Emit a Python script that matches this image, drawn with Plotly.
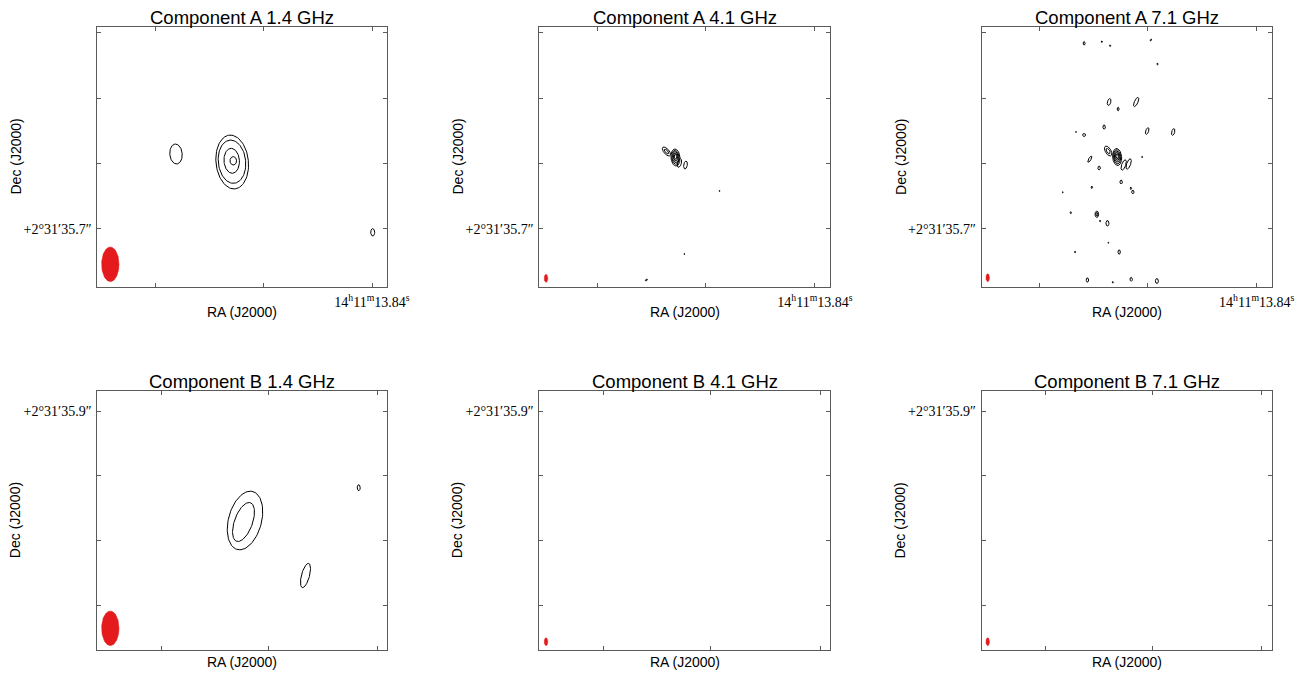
import numpy as np
import plotly.graph_objects as go

# ---------------- data (map offsets in map pixels; y up, x right) ----------------
# Component A 1.4 GHz contour rings: centre x, centre y, semi-minor, semi-major, tilt(deg)
a14_cx = [134.9, 134.7, 134.4, 136.0, 78.7, 275.4]
a14_cy = [124.7, 125.0, 125.9, 125.9, 132.7, 54.4]
a14_sa = [16.2, 13.7, 7.7, 3.3, 6.2, 2.0]
a14_sb = [27.0, 21.7, 12.5, 4.2, 10.0, 3.7]
a14_pa = [-6, -6, -4, 0, -5, 0]

# Component A 4.1 GHz
a41_cx = [135.7, 135.7, 135.7, 135.7, 135.7, 126.7, 126.7, 139.7, 145.7, 179.7, 144.7, 106.7]
a41_cy = [129.2, 129.4, 129.6, 129.8, 130.0, 135.2, 135.2, 123.7, 121.7, 95.7, 32.7, 6.7]
a41_sa = [4.5, 3.6, 2.8, 2.0, 1.2, 2.6, 1.3, 1.9, 1.8, 0.5, 0.5, 0.7]
a41_sb = [8.5, 7.0, 5.5, 4.0, 2.5, 5.5, 3.0, 4.5, 4.0, 0.6, 0.6, 1.2]
a41_pa = [-5, -5, -5, -5, -5, -40, -40, 15, 10, 0, 0, 60]

# Component A 7.1 GHz
a71_cx = [135.3, 135.3, 135.3, 135.3, 135.3, 126.3, 126.3, 141.8, 146.8,
          102.3, 120.0, 128.3, 169.0, 175.6, 127.3, 154.3, 136.3, 122.3, 94.3,
          102.3, 165.3, 191.3, 108.0, 160.3, 117.3, 139.3, 110.0, 149.0, 151.0,
          81.0, 89.0, 115.0, 115.0, 118.3, 125.6, 126.6, 93.3, 137.3, 105.6,
          131.0, 149.3, 175.0]
a71_cy = [129.7, 129.9, 130.1, 130.3, 130.5, 135.7, 135.7, 121.7, 122.7,
          243.4, 245.0, 241.0, 246.7, 222.7, 184.7, 184.7, 177.7, 159.7, 154.7,
          151.7, 155.7, 154.7, 127.5, 129.7, 118.7, 104.7, 99.4, 98.4, 94.7,
          94.4, 74.0, 72.4, 72.4, 65.7, 63.4, 44.0, 34.7, 34.7, 6.7,
          4.4, 7.4, 5.7]
a71_sa = [4.5, 3.6, 2.8, 2.0, 1.2, 2.8, 1.5, 2.0, 2.0,
          1.0, 0.6, 0.6, 0.6, 0.6, 1.7, 1.8, 1.0, 1.2, 0.5,
          1.5, 1.5, 1.5, 1.2, 0.5, 1.2, 1.2, 0.8, 0.7, 1.2,
          0.5, 0.7, 1.8, 1.0, 0.6, 1.5, 0.5, 0.6, 1.2, 1.2,
          0.6, 1.2, 1.5]
a71_sb = [8.5, 7.0, 5.5, 4.0, 2.5, 5.5, 3.0, 5.5, 5.5,
          1.8, 0.8, 0.8, 1.0, 0.9, 3.5, 5.0, 1.8, 2.2, 0.6,
          1.5, 3.5, 3.5, 3.5, 0.7, 2.0, 2.0, 1.2, 1.2, 1.8,
          0.6, 1.0, 3.2, 1.8, 0.8, 2.8, 0.6, 0.8, 2.2, 2.2,
          0.8, 2.0, 2.5]
a71_pa = [-5, -5, -5, -5, -5, -30, -30, 20, 20,
          0, 0, 0, 40, 0, 15, 25, 0, 0, 0,
          0, 20, 15, 30, 0, 0, 0, 0, 0, 0,
          0, 0, 0, 0, 0, 0, 0, 0, 0, 0,
          0, 0, 0]

# Component B 1.4 GHz
b14_cx = [147.7, 146.2, 208.2, 261.4]
b14_cy = [129.5, 128.0, 74.5, 162.3]
b14_sa = [16.5, 9.0, 4.0, 1.5]
b14_sb = [30.0, 20.5, 12.5, 3.0]
b14_pa = [15, 20, 15, 0]

# Component B 4.1 / 7.1 GHz: no contours
b41_cx, b41_cy, b41_sa, b41_sb, b41_pa = [], [], [], [], []
b71_cx, b71_cy, b71_sa, b71_sb, b71_pa = [], [], [], [], []

# restoring beams (filled red), one per panel: A1.4, A4.1, A7.1, B1.4, B4.1, B7.1
beam_cx = [13.0, 6.7, 6.0, 13.0, 6.7, 6.0]
beam_cy = [22.4, 8.4, 9.0, 21.7, 8.3, 8.3]
beam_sa = [8.7, 1.8, 1.8, 8.7, 1.8, 1.8]
beam_sb = [17.3, 4.0, 4.0, 17.3, 4.0, 4.0]

titles = ["Component A 1.4 GHz", "Component A 4.1 GHz", "Component A 7.1 GHz",
          "Component B 1.4 GHz", "Component B 4.1 GHz", "Component B 7.1 GHz"]

# tick marks (all) and labelled ticks
top_xticks = [57.7, 165.7, 274.7]
top_xlab_val = [274.7]
top_xlab_txt = ["14<sup>h</sup>11<sup>m</sup>13.84<sup>s</sup>"]
top_yticks = [58.0, 123.4, 188.4, 254.0]
top_ylab_val = [58.0]
top_ylab_txt = ["+2°31′35.7″"]
bot_xticks = [63.7, 171.0, 280.0]
bot_xlab_val = []
bot_xlab_txt = []
bot_yticks = [44.3, 109.3, 174.3, 239.0]
bot_ylab_val = [239.0]
bot_ylab_txt = ["+2°31′35.9″"]

# ---------------- layout geometry (pixels) ----------------
W, H = 1306, 673
col_left = [97.3, 539.3, 981.7]
col_right = [387.3, 830.3, 1272.0]
row_top = [26.7, 390.7]
row_bot = [286.7, 650.0]
x_range = [0, 290]
y_ranges = [[0, 260], [0, 259.3]]


def ellipse(cx, cy, a, b, t, n=90):
    th = np.radians(t)
    s = np.linspace(0, 2 * np.pi, n)
    u = a * np.cos(s)
    v = b * np.sin(s)
    x = cx + u * np.cos(th) + v * np.sin(th)
    y = cy - u * np.sin(th) + v * np.cos(th)
    return list(x), list(y)


contour_sets = [
    (a14_cx, a14_cy, a14_sa, a14_sb, a14_pa),
    (a41_cx, a41_cy, a41_sa, a41_sb, a41_pa),
    (a71_cx, a71_cy, a71_sa, a71_sb, a71_pa),
    (b14_cx, b14_cy, b14_sa, b14_sb, b14_pa),
    (b41_cx, b41_cy, b41_sa, b41_sb, b41_pa),
    (b71_cx, b71_cy, b71_sa, b71_sb, b71_pa),
]

fig = go.Figure()
annotations = []
layout = dict(width=W, height=H, margin=dict(l=0, r=0, t=0, b=0, autoexpand=False),
              paper_bgcolor="white", plot_bgcolor="white", showlegend=False)

axis_color = "#5a5a5a"
sans = "Liberation Sans, Arial, sans-serif"
serif = "Liberation Serif, Times New Roman, serif"

for i in range(6):
    r, c = divmod(i, 3)
    k = i + 1
    xs = "" if k == 1 else str(k)
    xa, ya = "x" + xs, "y" + xs
    # contours
    cx, cy, sa, sb, pa = contour_sets[i]
    X, Y = [], []
    for j in range(len(cx)):
        ex, ey = ellipse(cx[j], cy[j], sa[j], sb[j], pa[j])
        X += ex + [None]
        Y += ey + [None]
    if X:
        fig.add_trace(go.Scatter(x=X, y=Y, mode="lines", xaxis=xa, yaxis=ya,
                                 line=dict(color="black", width=1), hoverinfo="skip"))
    # beam
    bx, by = ellipse(beam_cx[i], beam_cy[i], beam_sa[i], beam_sb[i], 0)
    fig.add_trace(go.Scatter(x=bx, y=by, mode="lines", fill="toself", fillcolor="#e41a1c",
                             line=dict(color="#e41a1c", width=0.5), xaxis=xa, yaxis=ya,
                             hoverinfo="skip"))
    if r == 0:
        xt, xv, xtt = top_xticks, top_xlab_val, top_xlab_txt
        yt, yv, ytt = top_yticks, top_ylab_val, top_ylab_txt
    else:
        xt, xv, xtt = bot_xticks, bot_xlab_val, bot_xlab_txt
        yt, yv, ytt = bot_yticks, bot_ylab_val, bot_ylab_txt
    common = dict(showgrid=False, zeroline=False, showline=True, linecolor=axis_color,
                  linewidth=1, mirror="ticks", ticks="", tickmode="array", automargin=False,
                  tickfont=dict(family=serif, size=14, color="black"), fixedrange=True)
    layout["xaxis" + xs] = dict(common, domain=[col_left[c] / W, col_right[c] / W],
                                range=x_range, tickvals=xv, ticktext=xtt, anchor=ya,
                                ticklabelstandoff=2,
                                minor=dict(tickmode="array", tickvals=xt, ticks="inside",
                                           ticklen=4, tickcolor=axis_color, tickwidth=1,
                                           showgrid=False))
    layout["yaxis" + xs] = dict(common, domain=[1 - row_bot[r] / H, 1 - row_top[r] / H],
                                range=y_ranges[r], tickvals=yv, ticktext=ytt, anchor=xa,
                                ticklabelstandoff=2,
                                minor=dict(tickmode="array", tickvals=yt, ticks="inside",
                                           ticklen=4, tickcolor=axis_color, tickwidth=1,
                                           showgrid=False))
    xc = (col_left[c] + col_right[c]) / 2
    yc = (row_top[r] + row_bot[r]) / 2
    # title
    annotations.append(dict(text=titles[i], x=xc / W, y=1 - (row_top[r] - 9.5) / H,
                            xref="paper", yref="paper", xanchor="center", yanchor="middle",
                            showarrow=False, font=dict(family=sans, size=18.5, color="black")))
    # axis titles
    ra_y = row_bot[r] + (25 if r == 0 else 11.7)
    annotations.append(dict(text="RA (J2000)", x=xc / W, y=1 - ra_y / H,
                            xref="paper", yref="paper", xanchor="center", yanchor="middle",
                            showarrow=False, font=dict(family=sans, size=14, color="black")))
    annotations.append(dict(text="Dec (J2000)", x=(col_left[c] - 81.5) / W, y=1 - yc / H,
                            xref="paper", yref="paper", xanchor="center", yanchor="middle",
                            textangle=-90, showarrow=False,
                            font=dict(family=sans, size=14, color="black")))

layout["annotations"] = annotations
fig.update_layout(**layout)
fig.write_html("out.html", config={"displayModeBar": False, "responsive": False},
               post_script="document.body.style.margin='0';document.body.style.padding='0';"
                           "document.body.style.overflow='hidden';")
